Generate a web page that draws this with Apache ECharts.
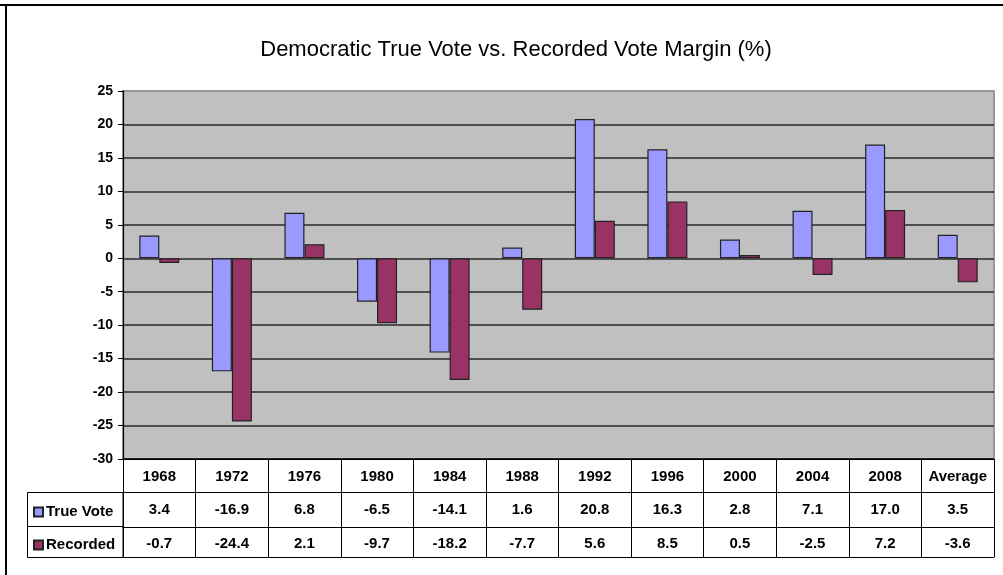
<!DOCTYPE html>
<html>
<head>
<meta charset="utf-8">
<script src="https://cdn.jsdelivr.net/npm/echarts@6/dist/echarts.min.js"></script>
<style>
html,body{margin:0;padding:0;background:#fff;}
#chart{width:1003px;height:575px;}
</style>
</head>
<body>
<div id="chart"></div>
<script>
var categories = ['1968','1972','1976','1980','1984','1988','1992','1996','2000','2004','2008','Average'];
var trueVote = [3.4, -16.9, 6.8, -6.5, -14.1, 1.6, 20.8, 16.3, 2.8, 7.1, 17.0, 3.5];
var recorded = [-0.7, -24.4, 2.1, -9.7, -18.2, -7.7, 5.6, 8.5, 0.5, -2.5, 7.2, -3.6];
var yTicks = {min: -30, max: 25, interval: 5};

var tableFont = {fontFamily: '"Liberation Sans", Arial, sans-serif', fontWeight: 'bold', fontSize: 15, color: '#000'};
var chart = echarts.init(document.getElementById('chart'), null, {renderer: 'canvas'});

var fmt = function (v) { return v.toFixed(1); };
var gridColors = ['#000'];
for (var i = 0; i < 10; i++) gridColors.push('#2a2a2a');
gridColors.push('#999');

var option = {
  backgroundColor: '#fff',
  animation: false,
  title: {
    text: 'Democratic True Vote vs. Recorded Vote Margin (%)',
    left: 511, top: 34, textAlign: 'center',
    textStyle: {fontFamily: '"Liberation Sans", Arial, sans-serif', fontWeight: 'normal', fontSize: 22, color: '#000'}
  },
  legend: {
    orient: 'vertical', left: 28, top: 497,
    itemWidth: 9, itemHeight: 9, itemGap: 13,
    icon: 'rect',
    textStyle: Object.assign({}, tableFont, {fontSize: 15, lineHeight: 20, padding: [0, 0, 0, -2]}),
    data: ['True Vote', 'Recorded']
  },
  grid: {
    left: 123, right: 9, top: 91, bottom: 116,
    show: true, backgroundColor: '#C0C0C0', borderColor: '#999', borderWidth: 2
  },
  xAxis: [
    {
      type: 'category', data: categories, position: 'bottom',
      axisLine: {show: true, onZero: false, lineStyle: {color: '#000', width: 1.2}},
      axisTick: {show: true, interval: 0, length: 98, lineStyle: {color: '#000', width: 1}},
      axisLabel: Object.assign({interval: 0, margin: 10}, tableFont),
      splitLine: {show: false}
    },
    {
      type: 'category', data: trueVote.map(fmt), position: 'bottom', offset: 33,
      axisLine: {show: true, onZero: false, lineStyle: {color: '#000', width: 1}},
      axisTick: {show: false},
      axisLabel: Object.assign({interval: 0, margin: 10}, tableFont),
      splitLine: {show: false}
    },
    {
      type: 'category', data: recorded.map(fmt), position: 'bottom', offset: 68,
      axisLine: {show: true, onZero: false, lineStyle: {color: '#000', width: 1}},
      axisTick: {show: false},
      axisLabel: Object.assign({interval: 0, margin: 9}, tableFont),
      splitLine: {show: false}
    },
    {
      type: 'category', data: categories, position: 'bottom', offset: 98,
      axisLine: {show: true, onZero: false, lineStyle: {color: '#000', width: 1}},
      axisTick: {show: false},
      axisLabel: {show: false},
      splitLine: {show: false}
    }
  ],
  yAxis: {
    type: 'value', min: yTicks.min, max: yTicks.max, interval: yTicks.interval,
    axisLine: {show: true, lineStyle: {color: '#000', width: 1.2}},
    axisTick: {show: true, length: 5, lineStyle: {color: '#000'}},
    axisLabel: {margin: 10, fontFamily: '"Liberation Sans", Arial, sans-serif', fontWeight: 'bold', fontSize: 14, color: '#000'},
    splitLine: {show: true, lineStyle: {color: gridColors, width: 1.5}}
  },
  series: [
    {
      name: 'True Vote', type: 'bar', data: trueVote,
      barWidth: 20, barGap: '0%',
      itemStyle: {color: '#9999FF', borderColor: '#222', borderWidth: 1.2}
    },
    {
      name: 'Recorded', type: 'bar', data: recorded,
      barWidth: 20, barGap: '0%',
      itemStyle: {color: '#993366', borderColor: '#222', borderWidth: 1.2}
    }
  ],
  graphic: [
    {type: 'line', shape: {x1: 0, y1: 5, x2: 1003, y2: 5}, style: {stroke: '#000', lineWidth: 2}},
    {type: 'line', shape: {x1: 6, y1: 5, x2: 6, y2: 575}, style: {stroke: '#000', lineWidth: 2}},
    {type: 'rect', shape: {x: 27.5, y: 492.5, width: 95.5, height: 65}, style: {fill: 'none', stroke: '#000', lineWidth: 1}},
    {type: 'line', shape: {x1: 27.5, y1: 526.5, x2: 123, y2: 526.5}, style: {stroke: '#000', lineWidth: 1}}
  ]
};
chart.setOption(option);
</script>
</body>
</html>
